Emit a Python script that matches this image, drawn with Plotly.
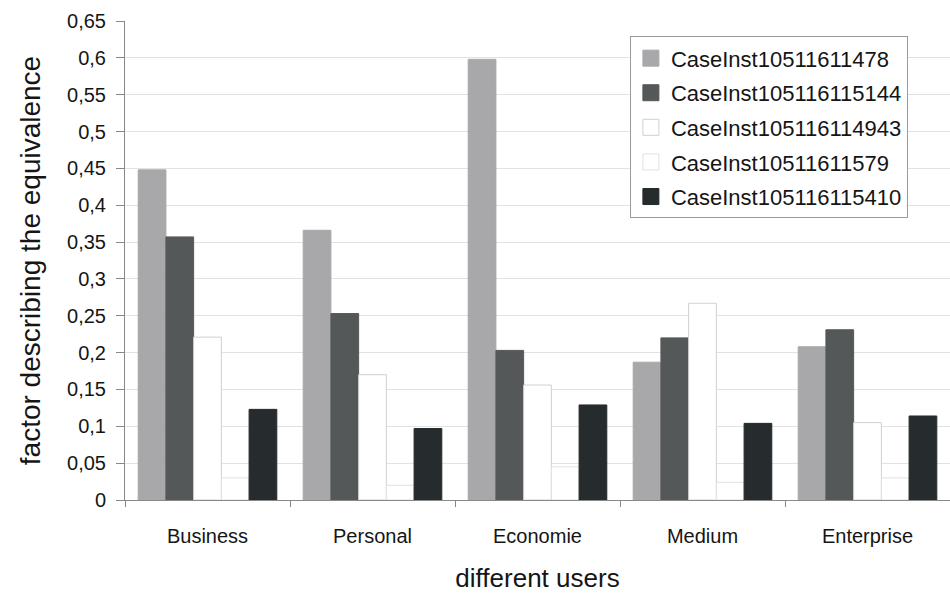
import plotly.graph_objects as go

categories = ["Business", "Personal", "Economie", "Medium", "Enterprise"]
series_names = ["CaseInst10511611478", "CaseInst105116115144", "CaseInst105116114943",
                "CaseInst10511611579", "CaseInst105116115410"]
s1 = [0.448, 0.366, 0.598, 0.187, 0.208]
s2 = [0.357, 0.253, 0.203, 0.220, 0.231]
s3 = [0.221, 0.170, 0.156, 0.267, 0.105]
s4 = [0.030, 0.020, 0.045, 0.024, 0.030]
s5 = [0.123, 0.097, 0.129, 0.104, 0.114]
series_values = [s1, s2, s3, s4, s5]
colors = ["#a8a8aa", "#555859", "#ffffff", "#ffffff", "#262b2d"]
line_colors = ["#a8a8aa", "#555859", "#d0d0d0", "#e0e0e0", "#262b2d"]

tick_vals = [i * 0.05 for i in range(14)]
tick_text = ["0", "0,05", "0,1", "0,15", "0,2", "0,25", "0,3", "0,35", "0,4",
             "0,45", "0,5", "0,55", "0,6", "0,65"]

fig = go.Figure()
for name, vals, c, lc in zip(series_names, series_values, colors, line_colors):
    fig.add_trace(go.Bar(
        x=categories, y=vals, name=name, showlegend=False,
        marker=dict(color=c, line=dict(color=lc, width=1)),
    ))
# legend entries (larger square swatches)
for name, c, lc in zip(series_names, colors, line_colors):
    fig.add_trace(go.Scatter(
        x=[None], y=[None], mode="markers", name=name, legendgroup=name,
        marker=dict(symbol="square", size=16, color=c, line=dict(color=lc, width=1)),
    ))

font_main = "Liberation Sans, Arial, sans-serif"
txt = "#151515"

fig.update_layout(
    width=950, height=594,
    margin=dict(l=125, r=0, t=21, b=94),
    paper_bgcolor="white", plot_bgcolor="white",
    barmode="group", bargap=0.16, bargroupgap=0,
    font=dict(family=font_main, color=txt),
    showlegend=True,
    legend=dict(
        x=0.612, y=0.968, xanchor="left", yanchor="top",
        bordercolor="#9a9a9a", borderwidth=1, bgcolor="white",
        font=dict(size=22, family=font_main, color=txt),
        tracegroupgap=3, traceorder="grouped", itemsizing="trace",
    ),
    xaxis=dict(
        showline=True, linecolor="#888888", linewidth=1,
        ticks="outside", tickson="boundaries", ticklen=6, tickcolor="#888888",
        tickfont=dict(size=20, family=font_main, color=txt),
        ticklabelstandoff=18,
        title=dict(text="different users", font=dict(size=26, family=font_main, color=txt),
                   standoff=22),
        showgrid=False,
    ),
    yaxis=dict(
        range=[0, 0.65], tickvals=tick_vals, ticktext=tick_text,
        showline=True, linecolor="#888888", linewidth=1,
        ticks="outside", ticklen=8, tickcolor="#888888",
        tickfont=dict(size=20, family=font_main, color=txt),
        ticklabelstandoff=6,
        showgrid=True, gridcolor="#e2e2e2", gridwidth=1,
        title=dict(text="factor describing the equivalence",
                   font=dict(size=28, family=font_main, color=txt), standoff=18),
        zeroline=False,
    ),
)

fig.write_html("out.html")
